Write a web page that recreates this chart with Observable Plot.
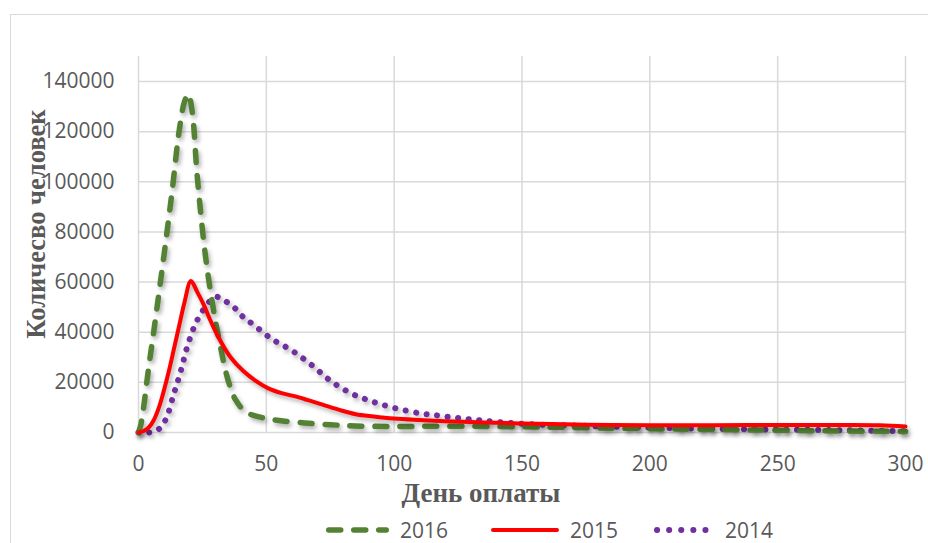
<!DOCTYPE html>
<html><head><meta charset="utf-8">
<script src="https://cdn.jsdelivr.net/npm/d3@7"></script>
<script src="https://cdn.jsdelivr.net/npm/@observablehq/plot@0.6"></script>
<style>
html,body{margin:0;padding:0;background:#fff;width:928px;height:543px;overflow:hidden;}
#wrap{position:relative;width:928px;height:543px;}
#frame{position:absolute;left:10px;top:14px;width:930px;height:540px;border:1px solid #d9d9d9;box-sizing:border-box;}
#chart{position:absolute;left:0;top:0;}
.ttl{position:absolute;font-family:"Liberation Serif",serif;font-weight:bold;color:#595959;white-space:nowrap;line-height:1;}
#ytitle{left:36px;top:224px;font-size:26.5px;transform:translate(-50%,-50%) rotate(-90deg);}
#xtitle{left:481px;top:493px;font-size:27px;transform:translate(-50%,-50%);}
#legend{position:absolute;left:0;top:516px;width:928px;height:28px;font-family:"Open Sans",sans-serif;font-size:21px;color:#595959;}
.li{position:absolute;top:0;display:flex;align-items:center;height:28px;}
.li svg{margin-right:10px;}
svg g[aria-label="line"] path{filter:drop-shadow(2px 3px 2px rgba(0,0,0,0.3));}
</style></head>
<body><div id="wrap"><div id="frame"></div><div id="chart"></div>
<div id="ytitle" class="ttl">Количесво человек</div>
<div id="xtitle" class="ttl">День оплаты</div>
<div id="legend"></div></div>
<script>
// Data
const days2016 = [0, 1, 4, 7, 10, 13, 16, 18, 19.5, 21, 23, 26, 29, 32, 35, 38, 42, 48, 55, 65, 75, 85, 100, 120, 150, 175, 200, 225, 250, 275, 300];
const vals2016 = [0, 3500, 26000, 48000, 71000, 95000, 121000, 132000, 135000, 128000, 102000, 72000, 51000, 34500, 21000, 13000, 8200, 6000, 4800, 3800, 3100, 2600, 2400, 2500, 2300, 1900, 1500, 1200, 900, 600, 400];

const days2015 = [0, 2, 4, 6, 8, 10, 12, 14, 16, 18, 20.5, 23, 25.5, 28, 31, 36, 41, 46, 51, 56, 61, 66, 71, 78, 85, 92, 100, 110, 120, 135, 150, 175, 200, 225, 250, 275, 290, 300];
const vals2015 = [0, 600, 2000, 5000, 10000, 17000, 25000, 34000, 43000, 52000, 60400, 56000, 51000, 45000, 38500, 30000, 24500, 20500, 17500, 15700, 14500, 13000, 11400, 9200, 7300, 6400, 5600, 5000, 4500, 4000, 3600, 3100, 2900, 2900, 3000, 3000, 2900, 2400];

const days2014 = [0, 4, 6, 8.6, 11, 13.8, 16.4, 19, 22, 24, 27, 30, 34, 38, 41, 45, 52, 60, 68, 75, 83, 91, 100, 110, 117, 132, 150, 180, 212, 248, 275, 300];
const vals2014 = [0, 0, 500, 1900, 6000, 15400, 24000, 34000, 42700, 46700, 51300, 54200, 52400, 49300, 46000, 43000, 37400, 32700, 26700, 20700, 15700, 12500, 9800, 7700, 6800, 5000, 3500, 2500, 1700, 1200, 900, 500];

const xTicks = [0, 50, 100, 150, 200, 250, 300];
const yTicks = [0, 20000, 40000, 60000, 80000, 100000, 120000, 140000];
const seriesNames = ["2016", "2015", "2014"];
const seriesColors = ["#548235", "#ff0000", "#7030a0"];

const toRows = (ds, vs) => ds.map((d, i) => ({day: d, value: vs[i]}));
const d16 = toRows(days2016, vals2016);
const d15 = toRows(days2015, vals2015);
const d14 = toRows(days2014, vals2014);

const grid = "#d9d9d9";
const plot = Plot.plot({
  width: 928, height: 505,
  marginTop: 56, marginBottom: 73, marginLeft: 138, marginRight: 23,
  style: {fontFamily: "'Open Sans', sans-serif", fontSize: "21px", color: "#595959", background: "transparent"},
  x: {domain: [0, 300]},
  y: {domain: [0, 150000]},
  marks: [
    Plot.ruleX(xTicks, {stroke: grid, strokeWidth: 1.5}),
    Plot.ruleY(yTicks, {stroke: grid, strokeWidth: 1.5}),
    Plot.axisX({ticks: xTicks, tickSize: 0, tickPadding: 24, label: null, tickFormat: d => String(d)}),
    Plot.axisY({ticks: yTicks, tickSize: 0, tickPadding: 24, label: null, tickFormat: d => String(d)}),
    Plot.line(d14, {x: "day", y: "value", stroke: seriesColors[2], strokeWidth: 6, strokeDasharray: "0.1 10.5", strokeLinecap: "round", curve: "catmull-rom"}),
    Plot.line(d16, {x: "day", y: "value", stroke: seriesColors[0], strokeWidth: 5.5, strokeDasharray: "12 13", strokeLinecap: "round", curve: "catmull-rom"}),
    Plot.line(d15, {x: "day", y: "value", stroke: seriesColors[1], strokeWidth: 4, curve: "catmull-rom"})
  ]
});
document.getElementById("chart").appendChild(plot);

// Legend
const leg = document.getElementById("legend");
const legPos = [325, 490, 653];
const legW = [65, 70, 62];
const legDash = ["12 13", null, "0.1 12"];
const legSW = [5.5, 4, 6];
seriesNames.forEach((n, i) => {
  const item = document.createElement("div");
  item.className = "li";
  item.style.left = legPos[i] + "px";
  const w = legW[i];
  item.innerHTML = `<svg width="${w}" height="10"><line x1="${legSW[i]/2+1}" x2="${w - legSW[i]/2 - 1}" y1="5" y2="5" stroke="${seriesColors[i]}" stroke-width="${legSW[i]}" stroke-linecap="round" ${legDash[i] ? `stroke-dasharray="${legDash[i]}"` : ""}/></svg><span>${n}</span>`;
  leg.appendChild(item);
});
</script></body></html>
